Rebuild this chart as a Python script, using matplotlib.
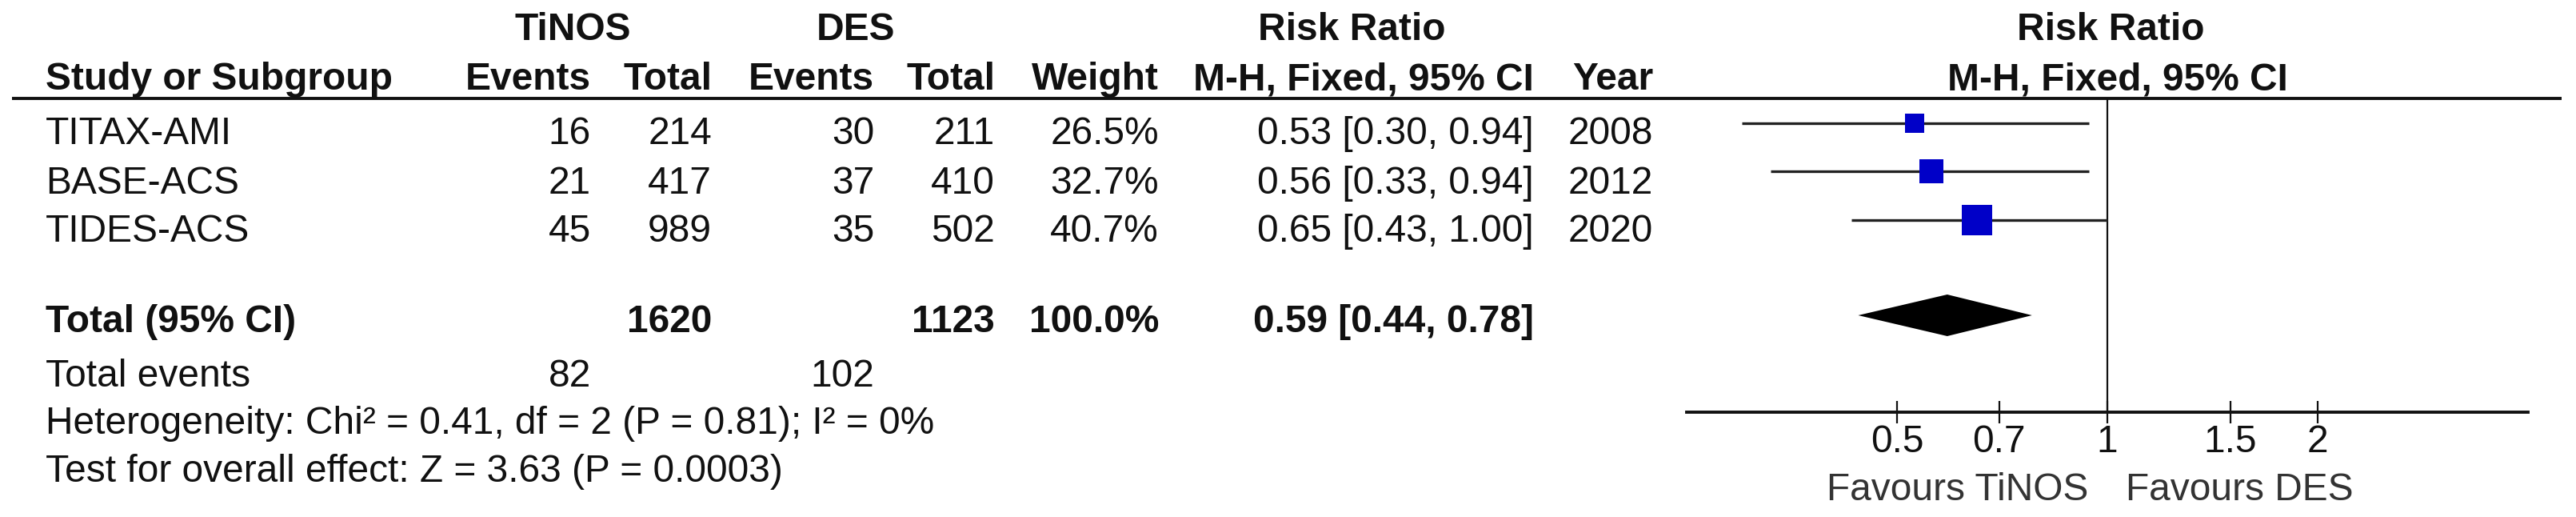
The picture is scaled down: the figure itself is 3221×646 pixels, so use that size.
import matplotlib
matplotlib.use('Agg')
import matplotlib.pyplot as plt

plt.rcParams['font.family'] = ['Liberation Sans', 'DejaVu Sans']

# Study data
studies = ['TITAX-AMI', 'BASE-ACS', 'TIDES-ACS']
tinos_events = [16, 21, 45]
tinos_total = [214, 417, 989]
des_events = [30, 37, 35]
des_total = [211, 410, 502]
weights = [26.5, 32.7, 40.7]
rr = [0.53, 0.56, 0.65]
rr_lo = [0.30, 0.33, 0.43]
rr_hi = [0.94, 0.94, 1.00]
years = [2008, 2012, 2020]

# Pooled result
total_tinos = 1620
total_des = 1123
total_weight = 100.0
pooled_rr = 0.59
pooled_lo = 0.44
pooled_hi = 0.78
total_events_tinos = 82
total_events_des = 102

heterogeneity = 'Heterogeneity: Chi² = 0.41, df = 2 (P = 0.81); I² = 0%'
overall = 'Test for overall effect: Z = 3.63 (P = 0.0003)'

tick_values = [0.5, 0.7, 1, 1.5, 2]
tick_labels = ['0.5', '0.7', '1', '1.5', '2']

W, H = 3221, 646
fs = 34.5
txt = '#111111'

fig = plt.figure(figsize=(W / 100, H / 100), dpi=100)

# text layer in pixel coordinates
tx = fig.add_axes([0, 0, 1, 1])
tx.set_xlim(0, W)
tx.set_ylim(H, 0)
tx.axis('off')

# column right edges (pixels)
col_te, col_tt, col_de, col_dt, col_w, col_ci, col_yr = 739, 890, 1093, 1244, 1449, 1918, 2067

def put(x, y, s, ha='right', bold=False, color=txt):
    tx.text(x, y, s, ha=ha, va='baseline', fontsize=fs,
            fontweight='bold' if bold else 'normal', color=color)

# headers
put(716, 50, 'TiNOS', ha='center', bold=True)
put(1070, 50, 'DES', ha='center', bold=True)
put(1690, 50, 'Risk Ratio', ha='center', bold=True)
put(2639, 50, 'Risk Ratio', ha='center', bold=True)

put(57, 112, 'Study or Subgroup', ha='left', bold=True)
put(col_te, 112, 'Events', bold=True)
put(col_tt, 112, 'Total', bold=True)
put(col_de, 112, 'Events', bold=True)
put(col_dt, 112, 'Total', bold=True)
put(col_w, 112, 'Weight', bold=True)
put(col_ci, 112, 'M-H, Fixed, 95% CI', bold=True)
put(col_yr, 112, 'Year', bold=True)
put(2648, 112, 'M-H, Fixed, 95% CI', ha='center', bold=True)

tx.plot([15, 3203], [123, 123], color='#111111', lw=2.8, solid_capstyle='butt')

# study rows
row_base = [180, 242, 302]
row_mark = [154, 214, 275]
for i, name in enumerate(studies):
    y = row_base[i]
    put(57, y, name, ha='left')
    put(col_te, y, str(tinos_events[i]))
    put(col_tt, y, str(tinos_total[i]))
    put(col_de, y, str(des_events[i]))
    put(col_dt, y, str(des_total[i]))
    put(col_w, y, f'{weights[i]:.1f}%')
    put(col_ci, y, f'{rr[i]:.2f} [{rr_lo[i]:.2f}, {rr_hi[i]:.2f}]')
    put(col_yr, y, str(years[i]))

# total rows
put(57, 415, 'Total (95% CI)', ha='left', bold=True)
put(col_tt, 415, str(total_tinos), bold=True)
put(col_dt, 415, str(total_des), bold=True)
put(col_w, 415, f'{total_weight:.1f}%', bold=True)
put(col_ci, 415, f'{pooled_rr:.2f} [{pooled_lo:.2f}, {pooled_hi:.2f}]', bold=True)

put(57, 483, 'Total events', ha='left')
put(col_te, 483, str(total_events_tinos))
put(col_de, 483, str(total_events_des))
put(57, 542, heterogeneity, ha='left')
put(57, 602, overall, ha='left')

# forest plot
ax_l, ax_r = 2109, 3161
ax = fig.add_axes([ax_l / W, 0, (ax_r - ax_l) / W, 1])
ax.set_xscale('log')
ax.set_xlim(0.25, 4)
ax.set_ylim(H, 0)
ax.patch.set_alpha(0)
for side in ['top', 'left', 'right']:
    ax.spines[side].set_visible(False)
ax.spines['bottom'].set_position(('data', 515))
ax.spines['bottom'].set_linewidth(2.8)
ax.spines['bottom'].set_color('#111111')
ax.set_yticks([])
ax.minorticks_off()
ax.set_xticks(tick_values)
ax.set_xticklabels(tick_labels)
ax.tick_params(axis='x', direction='inout', length=20, width=1.6,
               labelsize=fs, pad=1, colors='#111111')

ax.vlines(1, 123, 515, color='#111111', lw=1.6)

for i in range(len(studies)):
    y = row_mark[i]
    ax.plot([rr_lo[i], rr_hi[i]], [y, y], color='#222222', lw=2.4,
            solid_capstyle='butt')
    side = 0.92 * weights[i] * 0.72
    ax.plot(rr[i], y, marker='s', markersize=side, color='#0000C8',
            markeredgewidth=0)

# pooled diamond
dy = 394
ax.fill([pooled_lo, pooled_rr, pooled_hi, pooled_rr],
        [dy, dy - 26, dy, dy + 26], color='black', lw=0)

# favours labels
tx.text(2611, 625, 'Favours TiNOS', ha='right', va='baseline', fontsize=fs, color='#333333')
tx.text(2658, 625, 'Favours DES', ha='left', va='baseline', fontsize=fs, color='#333333')

fig.savefig('out.png', dpi=100)
